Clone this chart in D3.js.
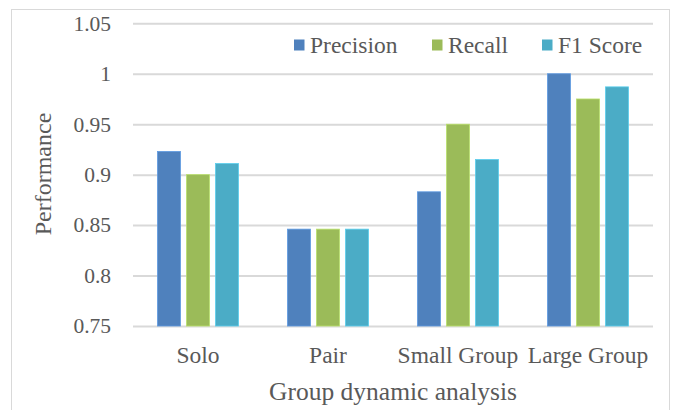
<!DOCTYPE html>
<html>
<head>
<meta charset="utf-8">
<script src="https://cdn.jsdelivr.net/npm/d3@7"></script>
<style>
  html, body { margin: 0; padding: 0; background: #fff; }
  svg { display: block; }
</style>
</head>
<body>
<svg id="chart" width="674" height="410"></svg>
<script>
// Group dynamic analysis: precision / recall / F1 per group size
const categories = ["Solo", "Pair", "Small Group", "Large Group"];
const seriesNames = ["Precision", "Recall", "F1 Score"];
const precision = [0.923, 0.846, 0.883, 1.0];
const recall    = [0.900, 0.846, 0.950, 0.975];
const f1Score   = [0.911, 0.846, 0.915, 0.987];
const yTicks = [0.75, 0.8, 0.85, 0.9, 0.95, 1, 1.05];
const colors = ["#4F81BD", "#9BBB59", "#4BACC6"];
const FONT = "'Liberation Serif', 'Times New Roman', serif";
const TEXT_COLOR = "#595959";

const seriesValues = [precision, recall, f1Score];
const rows = categories.map((c, i) => ({
  category: c,
  values: seriesNames.map((s, j) => ({ series: s, value: seriesValues[j][i], color: colors[j] }))
}));

const svg = d3.select("#chart");

// chart area frame
svg.append("rect")
  .attr("x", 11.5).attr("y", 9.5)
  .attr("width", 658).attr("height", 420)
  .attr("fill", "none").attr("stroke", "#D9D9D9").attr("stroke-width", 1);

const plot = { left: 133, right: 653, top: 23.3, bottom: 326 };

const x = d3.scaleBand().domain(categories).range([plot.left, plot.right]).padding(0);
const y = d3.scaleLinear().domain([0.75, 1.05]).range([plot.bottom, plot.top]);
const inner = d3.scaleBand().domain(seriesNames).paddingInner(0.207).paddingOuter(0);

// gridlines + tick labels
const yAxis = d3.axisLeft(y).tickValues(yTicks)
  .tickSize(-(plot.right - plot.left)).tickPadding(22)
  .tickFormat(d => d3.format("")(+d.toFixed(2)));
const gAxis = svg.append("g").attr("transform", `translate(${plot.left},0)`).call(yAxis);
gAxis.attr("font-family", FONT).attr("font-size", 21.5);
gAxis.select(".domain").remove();
gAxis.selectAll(".tick line").attr("stroke", "#D9D9D9").attr("stroke-width", 2);
gAxis.selectAll(".tick text").attr("fill", TEXT_COLOR);

// bars
const groups = svg.append("g").selectAll("g").data(rows).join("g")
  .attr("transform", d => `translate(${x(d.category) + x.bandwidth() / 2 - 40.5},0)`);
inner.range([0, 81]);
groups.selectAll("rect").data(d => d.values).join("rect")
  .attr("x", d => inner(d.series))
  .attr("y", d => y(d.value))
  .attr("width", inner.bandwidth())
  .attr("height", d => y(0.75) - y(d.value))
  .attr("fill", d => d.color)
  .attr("stroke", d => d3.color(d.color).brighter(0.5))
  .attr("stroke-width", 0.8);

// category labels
svg.append("g").selectAll("text").data(categories).join("text")
  .attr("x", d => x(d) + x.bandwidth() / 2)
  .attr("y", 363)
  .attr("text-anchor", "middle")
  .attr("font-family", FONT).attr("fill", TEXT_COLOR)
  .attr("font-size", 23.5)
  .text(d => d);

// axis titles
svg.append("text")
  .attr("x", 393).attr("y", 400)
  .attr("text-anchor", "middle").attr("font-size", 25.5)
  .attr("font-family", FONT).attr("fill", TEXT_COLOR)
  .text("Group dynamic analysis");
svg.append("text")
  .attr("transform", "translate(51,174) rotate(-90)")
  .attr("text-anchor", "middle").attr("font-size", 24)
  .attr("font-family", FONT).attr("fill", TEXT_COLOR)
  .text("Performance");

// legend
const legendX = [294, 432, 542];
const legend = svg.append("g").selectAll("g").data(seriesNames).join("g")
  .attr("transform", (d, i) => `translate(${legendX[i]},0)`);
legend.append("rect")
  .attr("x", 0).attr("y", 39.5).attr("width", 10.5).attr("height", 11)
  .attr("fill", (d, i) => colors[i]);
legend.append("text")
  .attr("x", 16).attr("y", 53)
  .attr("font-size", 23.5)
  .attr("font-family", FONT).attr("fill", TEXT_COLOR)
  .text(d => d);
</script>
</body>
</html>
